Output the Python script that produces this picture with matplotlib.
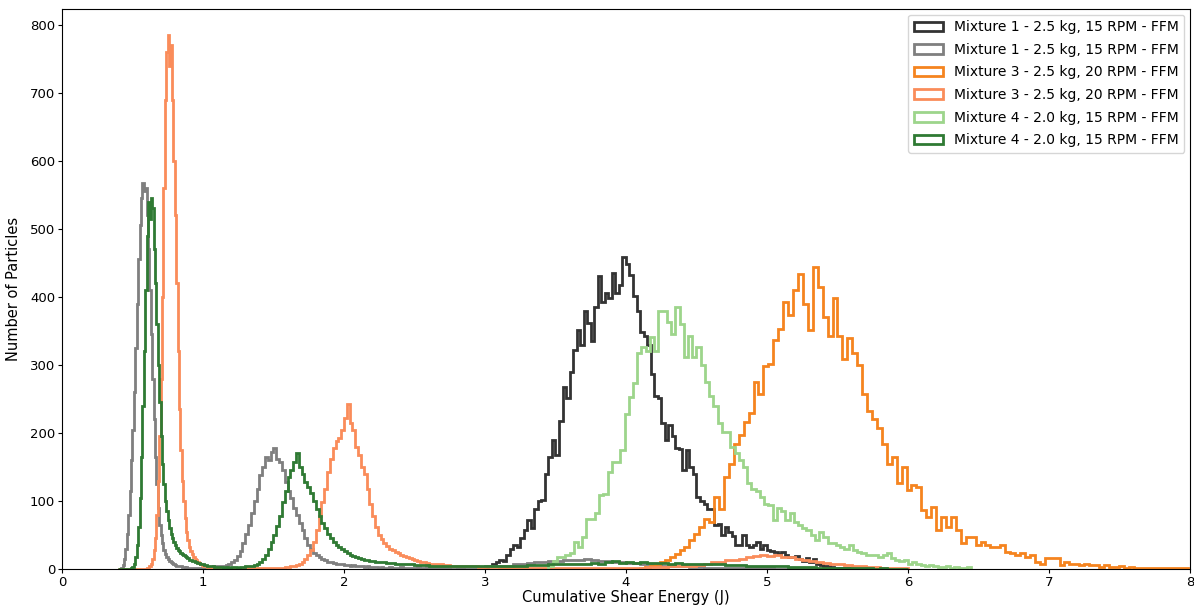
import numpy as np
import matplotlib
matplotlib.use("Agg")
import matplotlib.pyplot as plt
from matplotlib.patches import Patch

# ---- Mixture 1 - first measurement (bins of 0.025 J starting at 3.0 J)
m1_a_start, m1_a_width = 3.0, 0.025
m1_a_counts = [
    3, 5, 8, 10, 14, 12, 20, 30, 35, 33,
    45, 58, 72, 60, 88, 100, 102, 140, 165, 190,
    168, 218, 268, 252, 290, 322, 352, 330, 380, 362,
    335, 385, 430, 392, 405, 398, 435, 405, 418, 458,
    448, 432, 402, 380, 348, 342, 330, 287, 255, 252,
    215, 190, 212, 195, 178, 176, 145, 175, 150, 140,
    106, 100, 95, 88, 88, 65, 66, 50, 62, 55,
    48, 35, 36, 50, 36, 33, 35, 40, 30, 35,
    28, 27, 25, 22, 25, 20, 18, 17, 19, 15,
    12, 16, 10, 15, 8, 6, 5, 4, 3, 2,
    2, 1, 1, 1,
]

# ---- Mixture 3 - first measurement (bins of 0.035 J starting at 4.1 J)
m3_a_start, m3_a_width = 4.1, 0.035
m3_a_counts = [
    2, 3, 5, 8, 10, 14, 18, 22, 28, 33,
    43, 52, 62, 74, 69, 106, 88, 135, 155, 184,
    197, 216, 229, 275, 258, 298, 302, 336, 353, 392,
    373, 410, 434, 390, 352, 444, 415, 370, 342, 398,
    343, 308, 340, 318, 300, 258, 232, 221, 207, 184,
    155, 164, 126, 150, 116, 123, 121, 87, 77, 91,
    57, 77, 62, 77, 57, 38, 47, 47, 35, 40,
    35, 33, 33, 35, 25, 23, 21, 23, 18, 20,
    11, 8, 16, 16, 16, 6, 11, 8, 8, 6,
    8, 6, 6, 3, 6, 3, 3, 5, 2, 3,
    2, 1, 2, 1, 1, 2, 1, 1, 1, 1,
    1,
]

# ---- Mixture 4 - first measurement (bins of 0.03 J starting at 3.45 J)
m4_a_start, m4_a_width = 3.45, 0.03
m4_a_counts = [
    5, 12, 18, 18, 21, 23, 40, 33, 47, 74,
    74, 82, 109, 111, 143, 157, 157, 175, 228, 253,
    273, 317, 326, 320, 341, 321, 380, 380, 363, 345,
    385, 360, 312, 343, 312, 326, 300, 275, 255, 240,
    215, 202, 202, 180, 170, 160, 150, 126, 118, 115,
    106, 96, 94, 72, 89, 85, 72, 82, 69, 65,
    60, 57, 50, 43, 55, 47, 38, 38, 35, 33,
    30, 35, 28, 25, 23, 20, 20, 20, 18, 20,
    23, 16, 13, 12, 13, 8, 10, 7, 6, 5,
    6, 4, 3, 3, 4, 2, 3, 2, 2, 3,
]

# ---- Second measurements: fine bins (0.01 J up to 1.1 J, 0.02 J up to 2.6 J, 0.05 J up to 6.0 J)
fine_segments = [(0.40, 0.01, 70), (1.10, 0.02, 75), (2.60, 0.05, 68)]

m1_b_counts = [
    0, 0, 2, 6, 15, 30, 52, 80, 115, 160,
    205, 260, 325, 390, 455, 505, 545, 568, 555, 560,
    520, 470, 410, 345, 280, 220, 165, 125, 90, 65,
    50, 38, 28, 22, 18, 15, 12, 10, 9, 7,
    6, 5, 5, 4, 4, 3, 3, 2, 3, 2,
    2, 1, 2, 1, 1, 2, 1, 1, 1, 2,
    1, 2, 1, 2, 3, 2, 3, 4, 4, 5,
    # 1.10 - 2.60
    4, 4, 5, 6, 8, 10, 13, 19, 27, 38,
    52, 65, 82, 100, 118, 138, 150, 165, 160, 172,
    178, 162, 158, 145, 128, 115, 104, 90, 80, 68,
    58, 45, 36, 30, 24, 20, 18, 15, 13, 11,
    10, 9, 8, 8, 7, 6, 6, 5, 6, 5,
    4, 4, 3, 4, 3, 3, 3, 2, 3, 2,
    2, 3, 2, 2, 2, 3, 2, 2, 2, 2,
    2, 3, 2, 2, 3,
    # 2.60 - 6.00
    2, 2, 2, 3, 2, 3, 3, 3,
    4, 4, 5, 5, 7, 8, 9, 10, 11, 12,
    12, 13, 14, 13, 15, 13, 12, 12, 11, 10,
    9, 9, 8, 7, 6, 5, 5, 4, 4, 3,
    3, 2, 2, 2, 2, 1, 1, 1, 1, 1,
    1, 0, 0, 0, 0, 0, 0, 0, 0, 0,
    0, 0, 0, 0, 0, 0, 0, 0, 0, 0,
]

m3_b_counts = [
    0, 0, 0, 0, 0, 0, 0, 0, 0, 0,
    0, 0, 0, 0, 0, 0, 0, 0, 0, 0,
    1, 2, 4, 8, 15, 28, 45, 80, 130, 195,
    280, 400, 560, 690, 760, 785, 740, 770, 690, 600,
    520, 420, 320, 235, 175, 130, 100, 75, 55, 42,
    33, 27, 22, 18, 15, 13, 11, 9, 8, 6,
    5, 4, 4, 3, 3, 3, 2, 2, 2, 2,
    # 1.10 - 2.60
    2, 1, 1, 1, 1, 1, 1, 1, 1, 1,
    1, 1, 1, 1, 1, 1, 1, 1, 1, 2,
    2, 2, 2, 2, 3, 3, 4, 5, 6, 8,
    11, 15, 20, 28, 40, 58, 78, 98, 118, 142,
    162, 178, 188, 192, 205, 222, 243, 215, 205, 180,
    168, 150, 140, 118, 95, 78, 62, 50, 44, 38,
    34, 30, 28, 25, 23, 21, 19, 17, 16, 15,
    13, 12, 11, 10, 9,
    # 2.60 - 6.00
    8, 7, 6, 5, 5, 4, 4, 3,
    3, 3, 2, 2, 2, 2, 2, 2, 2, 2,
    2, 2, 2, 2, 2, 2, 2, 2, 2, 2,
    2, 2, 2, 3, 3, 3, 4, 4, 5, 5,
    6, 8, 10, 11, 13, 14, 15, 17, 19, 21,
    19, 20, 18, 17, 15, 14, 12, 11, 9, 8,
    7, 6, 5, 4, 3, 3, 2, 2, 1, 1,
]

m4_b_counts = [
    0, 0, 0, 0, 0, 0, 0, 0, 0, 1,
    3, 8, 18, 35, 62, 105, 165, 240, 320, 410,
    490, 540, 515, 545, 530, 470, 420, 360, 300, 245,
    195, 155, 125, 100, 85, 72, 60, 52, 45, 40,
    35, 31, 28, 26, 24, 22, 20, 19, 17, 16,
    14, 13, 12, 12, 11, 10, 9, 9, 8, 7,
    7, 6, 6, 5, 5, 5, 4, 4, 3, 3,
    # 1.10 - 2.60
    3, 3, 2, 3, 2, 3, 3, 2, 3, 3,
    4, 4, 5, 6, 8, 11, 15, 21, 30, 40,
    50, 63, 78, 98, 115, 135, 145, 158, 170, 150,
    140, 128, 120, 112, 100, 88, 78, 68, 60, 52,
    45, 40, 35, 32, 29, 27, 24, 21, 19, 17,
    16, 15, 14, 13, 12, 12, 11, 11, 10, 10,
    9, 9, 9, 8, 8, 8, 7, 7, 7, 7,
    6, 6, 6, 6, 6,
    # 2.60 - 6.00
    5, 5, 5, 4, 4, 4, 4, 4,
    4, 4, 5, 5, 5, 5, 6, 6, 6, 7,
    7, 7, 8, 8, 8, 9, 8, 10, 12, 9,
    10, 9, 10, 9, 9, 9, 8, 9, 8, 8,
    7, 8, 7, 7, 6, 6, 6, 5, 5, 5,
    4, 4, 4, 3, 3, 3, 3, 2, 2, 2,
    2, 1, 1, 1, 1, 0, 1, 0, 0, 0,
]

labels = [
    "Mixture 1 - 2.5 kg, 15 RPM - FFM",
    "Mixture 1 - 2.5 kg, 15 RPM - FFM",
    "Mixture 3 - 2.5 kg, 20 RPM - FFM",
    "Mixture 3 - 2.5 kg, 20 RPM - FFM",
    "Mixture 4 - 2.0 kg, 15 RPM - FFM",
    "Mixture 4 - 2.0 kg, 15 RPM - FFM",
]
colors = ["#333333", "#7f7f7f", "#f5841f", "#fa8c5a", "#9dd58b", "#2f7a33"]


def uniform_edges(start, width, n):
    return start + width * np.arange(n + 1)


def fine_edges(segments):
    parts = []
    for i, (start, width, n) in enumerate(segments):
        e = start + width * np.arange(n + 1)
        parts.append(e if i == 0 else e[1:])
    return np.concatenate(parts)


fe = fine_edges(fine_segments)
series = [
    (np.array(m1_a_counts), uniform_edges(m1_a_start, m1_a_width, len(m1_a_counts))),
    (np.array(m1_b_counts), fe),
    (np.array(m3_a_counts), uniform_edges(m3_a_start, m3_a_width, len(m3_a_counts))),
    (np.array(m3_b_counts), fe),
    (np.array(m4_a_counts), uniform_edges(m4_a_start, m4_a_width, len(m4_a_counts))),
    (np.array(m4_b_counts), fe),
]

fig = plt.figure(figsize=(11.94, 6.08), dpi=100)
ax = fig.add_axes([0.0519, 0.0641, 0.9447, 0.9209])

handles = []
for (counts, edges), lab, col in zip(series, labels, colors):
    ax.stairs(counts, edges, baseline=0, fill=False, color=col, linewidth=2.0)
    handles.append(Patch(facecolor="none", edgecolor=col, linewidth=2.0, label=lab))

ax.set_xlim(0, 8)
ax.set_ylim(0, 823)
ax.set_xlabel("Cumulative Shear Energy (J)", fontsize=10.5, labelpad=1)
ax.set_ylabel("Number of Particles", fontsize=10.5, labelpad=6)
ax.tick_params(labelsize=9.5, length=3, pad=2)
ax.legend(handles=handles, loc="upper right", fontsize=10.0, handlelength=2.1,
          labelspacing=0.62, borderaxespad=0.4, framealpha=0.8)

fig.savefig("out.png", dpi=100)
